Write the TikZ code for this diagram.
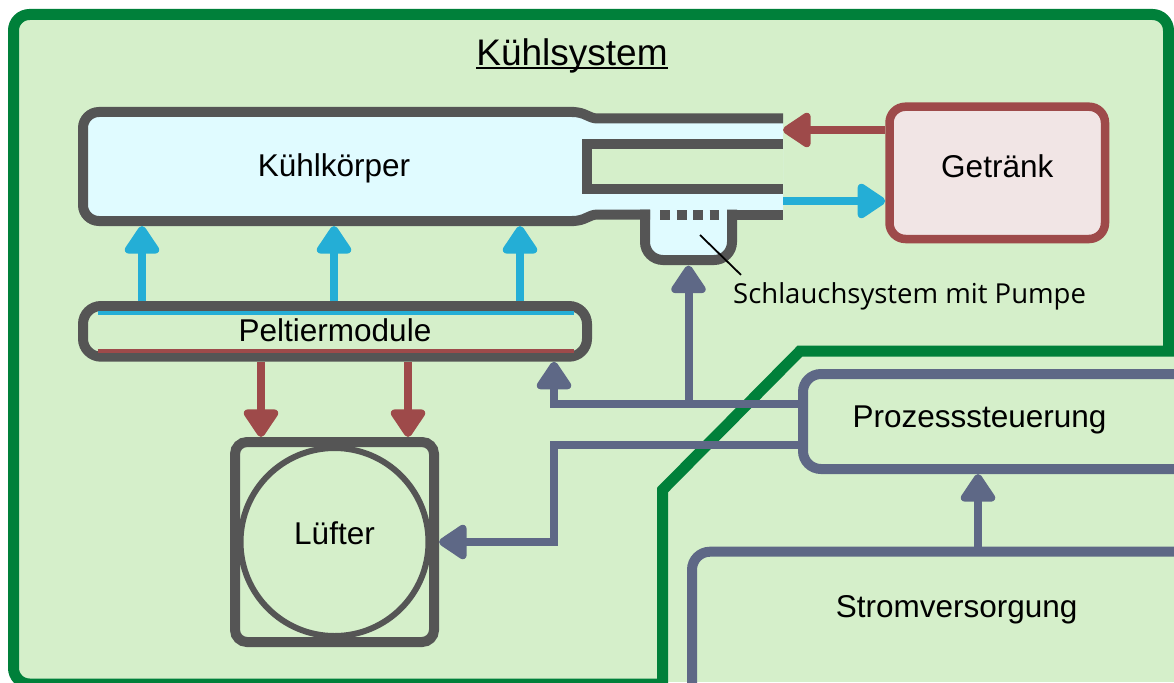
\documentclass[tikz,border=0pt]{standalone}
\usepackage{fontspec}
\setmainfont{Liberation Sans}
\newfontfamily\notefont{Open Sans}
\usetikzlibrary{arrows.meta,positioning}

\definecolor{bggreen}{HTML}{D5EFCA}
\definecolor{framegreen}{HTML}{00803A}
\definecolor{partgray}{HTML}{555555}
\definecolor{coolfill}{HTML}{E0FBFF}
\definecolor{coolblue}{HTML}{24AED6}
\definecolor{hotred}{HTML}{9E4A4A}
\definecolor{drinkfill}{HTML}{F1E5E5}
\definecolor{ctrlgray}{HTML}{5E6886}

\begin{document}
\begin{tikzpicture}[
    x=1pt, y=-1pt,
    every node/.style={font=\fontsize{31.5}{36}\selectfont},
    partline/.style={draw=partgray, line width=10pt},
    compbox/.style={rectangle, partline, rounded corners=16pt},
    flowtip/.style={-{Triangle[width=39pt,length=31pt,round]}},
    cold/.style={flowtip, coolblue, line width=8pt},
    hot/.style={flowtip, hotred, line width=8pt},
    sig/.style={flowtip, ctrlgray, line width=8pt}
]
    \useasboundingbox (0,0) rectangle (1174,682);
    \clip (0,0) rectangle (1174,682);
    \fill[white] (0,0) rectangle (1174,682);

    % Rahmen
    \fill[bggreen] (662.5,351) rectangle (1174,682);
    \draw[framegreen, fill=bggreen, line width=11pt, rounded corners=16pt]
        (662.5,684) -- (13.5,684) -- (13.5,14.5) -- (1168.5,14.5)
        [sharp corners] -- (1168.5,351) -- (800,351) -- (662.5,490) -- cycle;

    % Kuehlkoerper mit Schlauch und Pumpe
    \fill[coolfill, rounded corners=16pt] (83,112) rectangle (590,221);
    \fill[coolfill] (570,112) .. controls (586,112) and (588,118.5) .. (598,118.5) -- (783,118.5)
        -- (783,214.5) -- (598,214.5) .. controls (588,214.5) and (586,221) .. (570,221) -- cycle;
    \fill[coolfill, rounded corners=18pt] (645,150) -- (645,260) -- (732,260) -- (732,150) -- cycle;
    \draw[partline, rounded corners=16pt] (574,112) -- (83,112) -- (83,221) -- (574,221);
    \draw[partline] (572,112) .. controls (586,112) and (588,118.5) .. (598,118.5) -- (783,118.5);
    \draw[partline] (572,221) .. controls (586,221) and (588,214.5) .. (598,214.5) -- (650,214.5);
    \draw[partline, rounded corners=18pt] (645,209.5) -- (645,260) -- (732,260) -- (732,209.5);
    \draw[partline] (727,214.5) -- (783,214.5);
    \draw[partline, fill=bggreen] (783,143.5) -- (587,143.5) -- (587,188.5) -- (783,188.5);
    \draw[partline, dash pattern=on 10pt off 6.5pt] (660,214.5) -- (718.5,214.5);

    \node[minimum width=502pt, minimum height=109pt, outer sep=5pt, text depth=2pt] (kk) at (334,166.5) {Kühlkörper};

    \node[compbox, draw=hotred, fill=drinkfill, line width=8.5pt, minimum width=215.5pt,
        minimum height=132.3pt, text depth=14pt] (drink) at (997.25,172.85) {Getränk};

    \node[compbox, rounded corners=18pt, minimum width=504pt, minimum height=50.7pt,
        text depth=3pt] (pm) at (335,331.35) {Peltiermodule};
    \draw[coolblue, line width=4pt] (97.5,312.5) -- (574,312.5);
    \draw[hotred, line width=4pt] (97.5,350.5) -- (574,350.5);

    \node[compbox, rounded corners=12pt, minimum width=199pt, minimum height=200pt,
        text depth=17pt] (fan) at (334.5,542) {Lüfter};
    \draw[partgray, line width=6pt] (fan.center) circle[radius=94pt];

    \node[compbox, draw=ctrlgray, fill=bggreen, rounded corners=18pt, anchor=north west,
        minimum height=95pt, text width=360pt, inner xsep=49.5pt, align=left,
        text depth=9pt] (ctrl) at (798,369) {Prozesssteuerung};
    \node[compbox, draw=ctrlgray, rounded corners=18pt, anchor=north west,
        minimum height=150pt, text width=300pt, inner xsep=143.8pt, align=left,
        text depth=41pt] (power) at (687,546.7) {Stromversorgung};

    \node[font=\fontsize{37}{42}\selectfont, anchor=base, inner sep=0pt] (title) at (572,66) {Kühlsystem};
    \draw[black, line width=2pt] ([yshift=-2.5pt]title.base west) -- ([yshift=-2.5pt]title.base east);

    % Waermefluss
    \foreach \x in {142,334,520}
        \draw[cold] (pm.north -| \x,0) -- (kk.south -| \x,0);
    \foreach \x in {261,408}
        \draw[hot] (pm.south -| \x,0) -- (fan.north -| \x,0);

    \coordinate (inlet) at (783,130);
    \coordinate (outlet) at (783,201);
    \draw[hot] (drink.west |- inlet) -- (inlet);
    \draw[cold] (outlet) -- (drink.west |- outlet);

    % Steuerung
    \coordinate (pump) at (688.5,265.5);
    \coordinate (tee) at (688.5,403.5);
    \coordinate (bend) at (554,444.5);
    \draw[sig] ([yshift=18pt]ctrl.west) -| (pm.south -| 554,0);
    \draw[sig] (tee) -- (pump);
    \draw[sig] ([yshift=-23pt]ctrl.west) -- (bend) |- (fan.east);
    \draw[sig] (power.north -| 978,0) -- (ctrl.south -| 978,0);

    \node[font=\notefont\fontsize{27.5}{32}\selectfont, anchor=base west, inner sep=0pt] (hose) at (733,303) {Schlauchsystem mit Pumpe};
    \coordinate (pumpin) at (700,235);
    \draw[black, line width=1.8pt] (pumpin) -- ([xshift=8pt,yshift=7pt]hose.north west);
\end{tikzpicture}
\end{document}
